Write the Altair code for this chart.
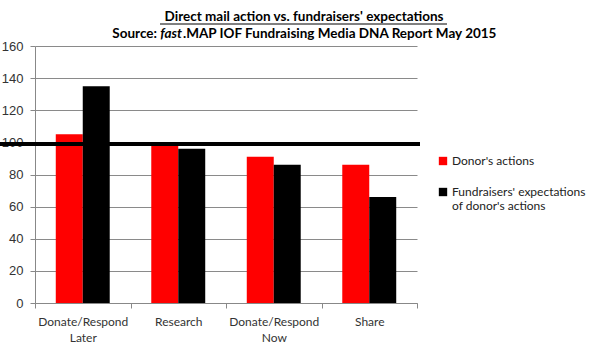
import altair as alt
import pandas as pd

categories = ["Donate/Respond|Later", "Research", "Donate/Respond|Now", "Share"]
series = ["Donor's actions", "Fundraisers' expectations|of donor's actions"]
donor_actions = [105, 99, 91, 86]
fundraiser_expectations = [135, 96, 86, 66]
reference_value = [99]
y_ticks = [0, 20, 40, 60, 80, 100, 120, 140, 160]

rows = []
for c, a, b in zip(categories, donor_actions, fundraiser_expectations):
    rows.append({"category": c, "series": series[0], "value": a})
    rows.append({"category": c, "series": series[1], "value": b})
df = pd.DataFrame(rows)

W, H = 382, 257
LFONT = "Lato"

y_axis = alt.Axis(values=y_ticks, labelOverlap=False,
                  labelFont="Liberation Sans", labelFontSize=13,
                  labelColor="#333", tickSize=5, tickColor="#888",
                  domainColor="#888", gridColor="#8a8a8a", labelPadding=7)
y_scale = alt.Scale(domain=[0, 160], nice=False)

bars = alt.Chart(df).mark_bar().encode(
    x=alt.X("category:N", sort=categories, title=None,
            scale=alt.Scale(paddingInner=0, paddingOuter=0),
            axis=alt.Axis(labelAngle=0, labelExpr="split(datum.label, '|')",
                          labelFont=LFONT, labelFontSize=12, labelColor="#333",
                          labelPadding=8, tickBand="extent", tickSize=5,
                          tickColor="#888", domainColor="#888", grid=False,
                          labelLineHeight=16)),
    xOffset=alt.XOffset("series:N", sort=series,
                        scale=alt.Scale(paddingInner=0, paddingOuter=0.77)),
    y=alt.Y("value:Q", title=None, scale=y_scale, axis=y_axis),
    color=alt.Color("series:N", sort=series,
                    scale=alt.Scale(domain=series, range=["#ff0000", "#000000"]),
                    legend=alt.Legend(title=None, orient="none", legendX=402, legendY=109,
                                      symbolType="square", symbolSize=70,
                                      symbolStrokeWidth=0,
                                      labelExpr="split(datum.label, '|')",
                                      labelFont=LFONT, labelFontSize=12, labelColor="#222",
                                      rowPadding=19, labelOffset=3)),
)

ref = alt.Chart(pd.DataFrame({"value": reference_value})).mark_rule(
    color="black", strokeWidth=4).encode(
    y=alt.Y("value:Q", title=None, scale=y_scale, axis=y_axis),
    x=alt.value(-35), x2=alt.value(W + 3))

title_df = pd.DataFrame({"t": ["x"]})
t1 = alt.Chart(title_df).mark_text(
    text="Direct mail action vs. fundraisers' expectations", font=LFONT,
    fontSize=13.5, fontWeight="bold", align="center", baseline="alphabetic",
    color="black").encode(x=alt.value(304 - 35), y=alt.value(21 - 46))
underline = alt.Chart(title_df).mark_rule(color="black", strokeWidth=1).encode(
    x=alt.value(160 - 35), x2=alt.value(447 - 35), y=alt.value(24 - 46))
s1 = alt.Chart(title_df).mark_text(
    text="Source:", font=LFONT, fontSize=13.5, fontWeight="bold", align="right",
    baseline="alphabetic", color="black").encode(x=alt.value(157 - 35), y=alt.value(38 - 46))
s2 = alt.Chart(title_df).mark_text(
    text="fast", font=LFONT, fontSize=13.5, fontWeight="bold", fontStyle="italic",
    align="right", baseline="alphabetic", color="black").encode(
    x=alt.value(182 - 35), y=alt.value(38 - 46))
s3 = alt.Chart(title_df).mark_text(
    text=".MAP IOF Fundraising Media DNA Report May 2015", font=LFONT, fontSize=13.5,
    fontWeight="bold", align="left", baseline="alphabetic", color="black").encode(
    x=alt.value(183 - 35), y=alt.value(38 - 46))

chart = alt.layer(bars, ref, t1, underline, s1, s2, s3).properties(
    width=W, height=H,
    autosize=alt.AutoSizeParams(type="none"),
    padding={"left": 35, "top": 46, "right": 185, "bottom": 52},
    background="white",
).configure_view(stroke=None)

chart.save("out.html", embed_options={"renderer": "svg", "actions": False})
